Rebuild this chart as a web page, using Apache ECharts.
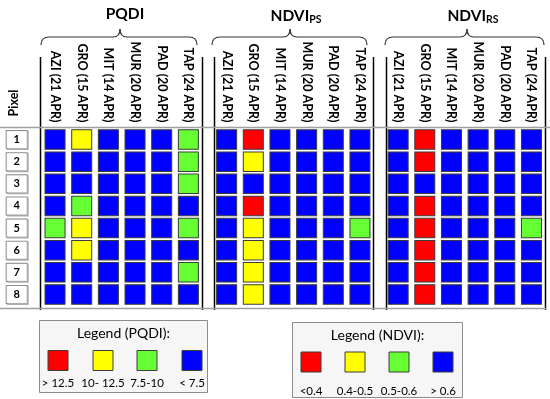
<!DOCTYPE html>
<html>
<head>
<meta charset="utf-8">
<script src="https://cdn.jsdelivr.net/npm/echarts@6/dist/echarts.min.js"></script>
<style>html,body{margin:0;padding:0;background:#fff;}#c{width:550px;height:399px;}</style>
</head>
<body>
<div id="c"></div>
<script>
// ---- data ----
const sites = ['AZI (21 APR)', 'GRO (15 APR)', 'MIT (14 APR)', 'MUR (20 APR)', 'PAD (20 APR)', 'TAP (24 APR)'];
const pixels = ['1', '2', '3', '4', '5', '6', '7', '8'];
// class codes: 0 = red, 1 = yellow, 2 = green, 3 = blue (rows = pixels 1..8, cols = sites)
const pqdiClass = [
  [3, 1, 3, 3, 3, 2],
  [3, 3, 3, 3, 3, 2],
  [3, 3, 3, 3, 3, 2],
  [3, 2, 3, 3, 3, 3],
  [2, 1, 3, 3, 3, 2],
  [3, 1, 3, 3, 3, 3],
  [3, 3, 3, 3, 3, 2],
  [3, 3, 3, 3, 3, 3]
];
const ndviPsClass = [
  [3, 0, 3, 3, 3, 3],
  [3, 1, 3, 3, 3, 3],
  [3, 3, 3, 3, 3, 3],
  [3, 0, 3, 3, 3, 3],
  [3, 1, 3, 3, 3, 2],
  [3, 1, 3, 3, 3, 3],
  [3, 1, 3, 3, 3, 3],
  [3, 1, 3, 3, 3, 3]
];
const ndviRsClass = [
  [3, 0, 3, 3, 3, 3],
  [3, 0, 3, 3, 3, 3],
  [3, 3, 3, 3, 3, 3],
  [3, 0, 3, 3, 3, 3],
  [3, 0, 3, 3, 3, 2],
  [3, 0, 3, 3, 3, 3],
  [3, 0, 3, 3, 3, 3],
  [3, 0, 3, 3, 3, 3]
];
const classColors = ['#ff0000', '#ffff00', '#66ff33', '#0000ff'];
const pqdiLegendLabels = ['> 12.5', '10- 12.5', '7.5-10', '< 7.5'];
const ndviLegendLabels = ['<0.4', '0.4-0.5', '0.5-0.6', '> 0.6'];
const panelTitles = ['PQDI', 'NDVI', 'NDVI'];
const panelSubs = ['', 'PS', 'RS'];

// ---- chart ----
const FONT = 'Lato';
const chart = echarts.init(document.getElementById('c'));
const gridLefts = [41.7, 213.3, 384.8];
const gridW = 160, gridTop = 128.5, gridH = 177;
const panels = [pqdiClass, ndviPsClass, ndviRsClass];

const grids = [], xAxes = [], yAxes = [], series = [];
panels.forEach((mat, k) => {
  grids.push({left: gridLefts[k], top: gridTop, width: gridW, height: gridH, containLabel: false});
  xAxes.push({
    type: 'category', gridIndex: k, data: sites, position: 'top',
    axisLine: {show: false}, axisTick: {show: false}, splitLine: {show: false},
    axisLabel: {rotate: 90, interval: 0, margin: 6, fontFamily: FONT, fontWeight: 'bold', fontSize: 12.5, color: '#000'}
  });
  yAxes.push({
    type: 'category', gridIndex: k, data: pixels, inverse: true,
    axisLine: {show: false}, axisTick: {show: false}, splitLine: {show: false},
    axisLabel: k === 0 ? {
      show: true, interval: 0, margin: 25, align: 'center', verticalAlign: 'middle',
      fontFamily: FONT, fontWeight: 'bold', fontSize: 11, color: '#000',
      backgroundColor: '#fff', borderColor: '#8a8a8a', borderWidth: 1,
      width: 18, height: 15, lineHeight: 15, padding: [1, 1],
      shadowColor: '#b0b0b0', shadowOffsetX: 1, shadowOffsetY: 1, shadowBlur: 0
    } : {show: false}
  });
  const data = [];
  mat.forEach((row, r) => row.forEach((c, s) => data.push([s, r, c])));
  series.push({
    type: 'scatter', xAxisIndex: k, yAxisIndex: k, symbol: 'rect', symbolSize: [20, 19.5],
    data: data,
    itemStyle: {
      color: p => classColors[p.value[2]],
      borderColor: '#3c3c3c', borderWidth: 1, opacity: 1
    },
    emphasis: {disabled: true}, animation: false
  });
});

// titles
const titleCenters = [120, 291, 468];
const titles = panelTitles.map((t, k) => ({
  text: panelSubs[k] ? '{m|' + t + '}{s|' + panelSubs[k] + '}' : '{m|' + t + '}',
  left: titleCenters[k], top: 1, textAlign: 'center',
  textStyle: {
    rich: {
      m: {fontFamily: FONT, fontWeight: 'bold', fontSize: 15.5, color: '#000'},
      s: {fontFamily: FONT, fontWeight: 'bold', fontSize: 10.5, color: '#000', verticalAlign: 'bottom', padding: [8, 0, 0, 0]}
    }
  }
}));

// decoration graphics
const g = [];
function brace(x1, x2, cx) {
  const yb = 45, yh = 37, yc = 29;
  const st = {fill: null, stroke: '#333', lineWidth: 1.2};
  return [
    {type: 'bezierCurve', silent: true, shape: {x1: x1, y1: yb, cpx1: x1, cpy1: yh, x2: x1 + 8, y2: yh}, style: st},
    {type: 'line', silent: true, shape: {x1: x1 + 8, y1: yh, x2: cx - 7, y2: yh}, style: st},
    {type: 'bezierCurve', silent: true, shape: {x1: cx - 7, y1: yh, cpx1: cx, cpy1: yh, x2: cx, y2: yc}, style: st},
    {type: 'bezierCurve', silent: true, shape: {x1: cx, y1: yc, cpx1: cx, cpy1: yh, x2: cx + 7, y2: yh}, style: st},
    {type: 'line', silent: true, shape: {x1: cx + 7, y1: yh, x2: x2 - 8, y2: yh}, style: st},
    {type: 'bezierCurve', silent: true, shape: {x1: x2 - 8, y1: yh, cpx1: x2, cpy1: yh, x2: x2, y2: yb}, style: st}
  ];
}
g.push(...brace(41, 197, 120), ...brace(212, 367, 290), ...brace(385, 544, 467));
// vertical separators
[40.5, 202.5, 214.5, 373.5, 386.5, 545.5].forEach(x => g.push({
  type: 'line', silent: true, shape: {x1: x, y1: 57, x2: x, y2: 310}, style: {stroke: '#000', lineWidth: 1.5}
}));
// horizontal rules
g.push({type: 'line', silent: true, shape: {x1: 0, y1: 127.5, x2: 550, y2: 127.5}, style: {stroke: '#a0a0a0', lineWidth: 1.5}});
g.push({type: 'line', silent: true, shape: {x1: 0, y1: 308.5, x2: 546, y2: 308.5}, style: {stroke: '#a0a0a0', lineWidth: 1.5}});
// Pixel label
g.push({type: 'text', silent: true, x: 14, y: 103, rotation: Math.PI / 2,
  style: {text: 'Pixel', fontFamily: FONT, fontWeight: 'bold', fontSize: 12.5, fill: '#000', align: 'center', verticalAlign: 'middle'}});

// legends
function legendBox(x, y, w, h, title, titleY, sqXs, sqY, labY, labels) {
  g.push({type: 'rect', silent: true, shape: {x: x, y: y, width: w, height: h}, style: {fill: '#f6f6f6', stroke: '#8c8c8c', lineWidth: 1}});
  g.push({type: 'text', silent: true, x: x + w / 2, y: titleY,
    style: {text: title, fontFamily: FONT, fontSize: 14, fill: '#000', align: 'center', verticalAlign: 'middle'}});
  sqXs.forEach((cx, i) => {
    g.push({type: 'rect', silent: true, shape: {x: cx - 10, y: sqY - 10, width: 20, height: 20},
      style: {fill: classColors[i], stroke: '#3c3c3c', lineWidth: 1}});
    g.push({type: 'text', silent: true, x: cx, y: labY,
      style: {text: labels[i], fontFamily: FONT, fontSize: 11.5, fill: '#000', align: 'center', verticalAlign: 'middle'}});
  });
}
legendBox(39.5, 320.5, 168, 72, 'Legend (PQDI):', 333, [58, 103, 147, 192], 360.5, 383, pqdiLegendLabels);
legendBox(292.5, 322.5, 170, 75, 'Legend (NDVI):', 335, [311, 355, 399, 443], 362, 391, ndviLegendLabels);

chart.setOption({
  animation: false,
  title: titles,
  grid: grids, xAxis: xAxes, yAxis: yAxes, series: series,
  graphic: g
});
</script>
</body>
</html>
